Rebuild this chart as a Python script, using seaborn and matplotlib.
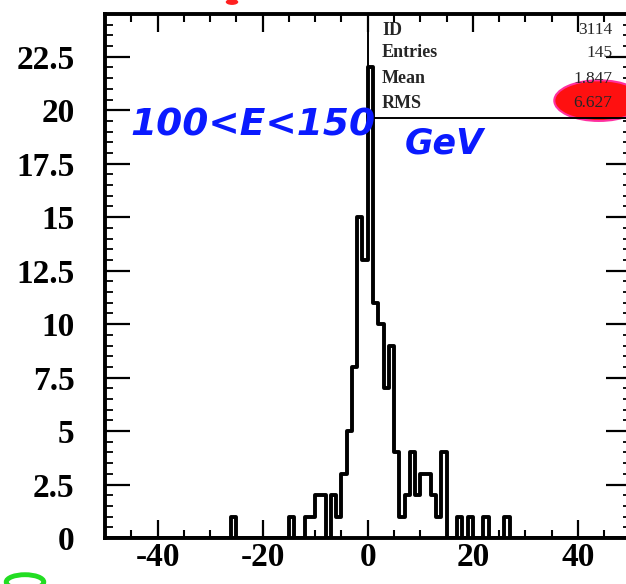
import numpy as np
import pandas as pd
import matplotlib
matplotlib.use("Agg")
import matplotlib.pyplot as plt
import seaborn as sns
from matplotlib.patches import Rectangle, Ellipse

# ============================================================
# DATA (bin width 1)
# ============================================================

bin_left = [-26, -15, -12, -11, -10, -9, -7, -6, -5, -4, -3, -2, -1,
            0, 1, 2, 3, 4, 5, 6, 7, 8, 9, 10, 11, 12, 13, 14,
            17, 19, 22, 26]
counts = [1, 1, 1, 1, 2, 2, 2, 1, 3, 5, 8, 15, 13,
          22, 11, 10, 7, 9, 4, 1, 2, 4, 2, 3, 3, 2, 1, 4,
          1, 1, 1, 1]

x_ticks = [-40, -20, 0, 20, 40]
y_ticks = [0, 2.5, 5, 7.5, 10, 12.5, 15, 17.5, 20, 22.5]
y_labels = ["0", "2.5", "5", "7.5", "10", "12.5", "15", "17.5", "20", "22.5"]

stat_names = ["ID", "Entries", "Mean", "RMS"]
stat_values = ["3114", "145", "1.847", "6.627"]

df = pd.DataFrame({
    "x": np.array(bin_left) + 0.5,
    "n": counts
})

# ============================================================
# STYLE
# ============================================================

sns.set_style("ticks")
plt.rcParams["font.family"] = ["Liberation Serif", "DejaVu Serif"]
plt.rcParams["font.weight"] = "bold"

fig = plt.figure(figsize=(6.26, 5.84), dpi=100)
ax = fig.add_axes([105 / 626, 46 / 584, 525.5 / 626, 524 / 584])

# ============================================================
# HISTOGRAM
# ============================================================

sns.histplot(
    data=df,
    x="x",
    weights="n",
    bins=[float(b) for b in range(-50, 51)],
    element="step",
    fill=False,
    color="black",
    linewidth=2.8,
    ax=ax
)

ax.set_xlim(-50, 50)
ax.set_ylim(0, 24.5)
ax.set_xlabel("")
ax.set_ylabel("")

# ============================================================
# AXES / TICKS
# ============================================================

for s in ax.spines.values():
    s.set_visible(True)
    s.set_linewidth(2.8)
    s.set_color("black")

ax.set_xticks(x_ticks)
ax.set_xticklabels([str(v) for v in x_ticks], fontsize=24, fontweight="bold")
ax.set_xticks(np.arange(-50, 51, 5), minor=True)
ax.set_yticks(y_ticks)
ax.set_yticklabels(y_labels, fontsize=24, fontweight="bold")
ax.set_yticks(np.arange(0, 24.6, 0.5), minor=True)

ax.tick_params(axis="both", which="both", direction="in",
               top=True, right=True, colors="black")
ax.tick_params(axis="x", which="major", length=13, width=1.6, pad=3)
ax.tick_params(axis="x", which="minor", length=6, width=1.5)
ax.tick_params(axis="y", which="major", length=18, width=1.6, pad=22)
ax.tick_params(axis="y", which="minor", length=6, width=1.3)

# ============================================================
# STATISTICS BOX
# ============================================================

ax.add_patch(Rectangle((0.5, 0.802), 0.5, 0.198, transform=ax.transAxes,
                       facecolor="none", edgecolor="black", linewidth=1.4,
                       zorder=3))

ax.add_patch(Ellipse((44.0, 20.45), 17.0, 1.9, facecolor="#ff1010",
                     edgecolor="#ff30a0", linewidth=1.5, clip_on=False,
                     zorder=2))

ys = [0.969, 0.926, 0.876, 0.830]
for name, val, yy in zip(stat_names, stat_values, ys):
    ax.text(0.527, yy, name, transform=ax.transAxes, fontsize=13,
            fontweight="bold", va="center", ha="left", zorder=4)
    ax.text(0.965, yy, val, transform=ax.transAxes, fontsize=12.5,
            fontweight="normal", va="center", ha="right", zorder=4)

# ============================================================
# HANDWRITTEN NOTE
# ============================================================

fig.text(130 / 626, 1 - 125 / 584, "100<E<150", color="#0a1aff",
         fontsize=27, fontstyle="italic", fontweight="bold",
         family="DejaVu Sans", va="center", ha="left")
fig.text(405 / 626, 1 - 143 / 584, "GeV", color="#0a1aff",
         fontsize=25, fontstyle="italic", fontweight="bold",
         family="DejaVu Sans", va="center", ha="left")

# scan marks
fig.patches.append(Ellipse((25 / 626, 2 / 584), 0.06, 0.025,
                           transform=fig.transFigure, facecolor="none",
                           edgecolor="#22dd22", linewidth=3.5))
fig.patches.append(Ellipse((232 / 626, 1 - 2 / 584), 0.02, 0.01,
                           transform=fig.transFigure, facecolor="#ff2020",
                           edgecolor="none"))

fig.savefig("out.png", dpi=100)
